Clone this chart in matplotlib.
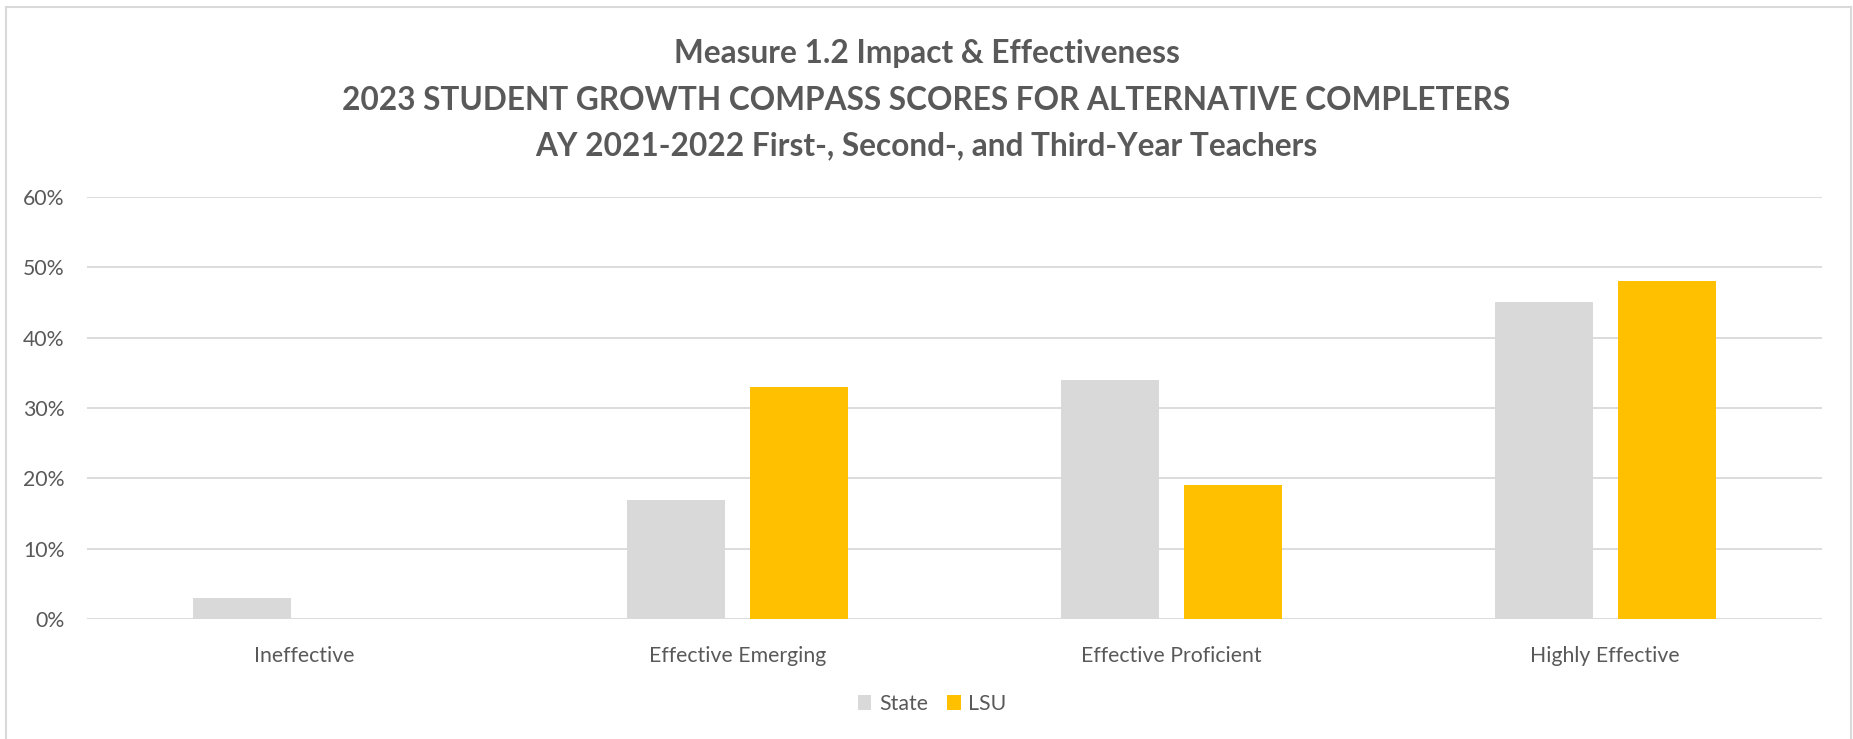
import matplotlib
matplotlib.use("Agg")
import matplotlib.pyplot as plt
from matplotlib.lines import Line2D
from matplotlib.patches import Patch
import numpy as np

categories = ["Ineffective", "Effective Emerging", "Effective Proficient", "Highly Effective"]
state = [0.03, 0.17, 0.34, 0.45]
lsu = [0.00, 0.33, 0.19, 0.48]
yticks = [0.0, 0.1, 0.2, 0.3, 0.4, 0.5, 0.6]
ytick_labels = ["0%", "10%", "20%", "30%", "40%", "50%", "60%"]
title_lines = ["Measure 1.2 Impact & Effectiveness",
               "2023 STUDENT GROWTH COMPASS SCORES FOR ALTERNATIVE COMPLETERS",
               "AY 2021-2022 First-, Second-, and Third-Year Teachers"]

GRAY = "#D9D9D9"
GOLD = "#FFC000"
TXT = "#595959"
FONT = ["Lato", "DejaVu Sans"]

W, H = 1853, 739
fig = plt.figure(figsize=(W / 100, H / 100), dpi=100)
plt.rcParams['font.family'] = FONT

ax = fig.add_axes([87 / W, 1 - 619.3 / H, (1822 - 87) / W, (619.3 - 196.7) / H])
x = np.arange(len(categories))
bw = 0.226
off = 0.1418
ax.bar(x - off, state, bw, color=GRAY, zorder=3, label="State")
ax.bar(x + off, lsu, bw, color=GOLD, zorder=3, label="LSU")
ax.set_xlim(-0.5, len(categories) - 0.5)
ax.set_ylim(0, 0.6)
ax.set_yticks(yticks)
ax.set_yticklabels(ytick_labels)
ax.set_xticks(x)
ax.set_xticklabels(categories)
ax.tick_params(axis='both', length=0, labelsize=15.3, colors=TXT)
ax.tick_params(axis='y', pad=16)
ax.tick_params(axis='x', pad=19)
for s in ax.spines.values():
    s.set_visible(False)
ax.yaxis.grid(True, color=GRAY, linewidth=1.3, zorder=0)
ax.set_axisbelow(True)

ys = [53, 100, 146]
for t, yy in zip(title_lines, ys):
    fig.text(0.5, 1 - yy / H, t, ha='center', va='center', fontsize=22.8,
             fontweight='bold', color=TXT)

handles = [Patch(facecolor=GRAY, label="State"), Patch(facecolor=GOLD, label="LSU")]
fig.legend(handles=handles, loc='center', bbox_to_anchor=(932 / W, 1 - 704 / H),
           ncol=2, frameon=False, fontsize=15.3, labelcolor=TXT,
           handlelength=0.65, handleheight=0.65, handletextpad=0.35, columnspacing=0.9)

# chart border (no bottom edge visible)
bx0, bx1, by = 5.5 / W, 1851 / W, 1 - 7 / H
fig.add_artist(Line2D([bx0, bx0], [0, by], transform=fig.transFigure, color=GRAY, lw=1.5))
fig.add_artist(Line2D([bx1, bx1], [0, by], transform=fig.transFigure, color=GRAY, lw=1.5))
fig.add_artist(Line2D([bx0, bx1], [by, by], transform=fig.transFigure, color=GRAY, lw=1.5))

fig.savefig("out.png", dpi=100, facecolor="white")
